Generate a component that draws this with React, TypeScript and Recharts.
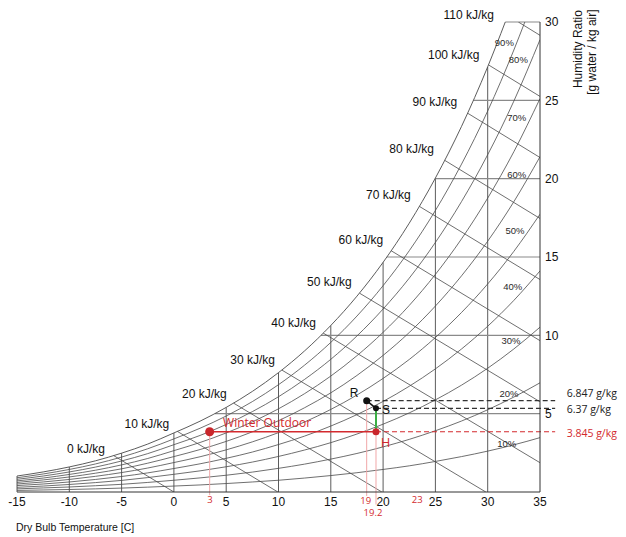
import React from 'react';
import { LineChart, Line, XAxis, YAxis, ReferenceLine, ReferenceDot } from 'recharts';

// dry bulb temperatures the curves are sampled at (C)
const TEMPS = [-15, -12.5, -10, -7.5, -5, -2.5, 0, 2.5, 5, 7.5, 10, 12.5, 15, 17.5, 20, 22.5, 25, 27.5, 30, 32.5, 35];

// humidity ratio (g/kg) along each relative humidity curve
const RH_LEVELS = [10, 20, 30, 40, 50, 60, 70, 80, 90];
const W_RH10 = [0.1, 0.13, 0.16, 0.2, 0.25, 0.31, 0.38, 0.45, 0.54, 0.64, 0.75, 0.89, 1.05, 1.23, 1.44, 1.67, 1.95, 2.26, 2.61, 3.01, 3.47];
const W_RH20 = [0.2, 0.26, 0.32, 0.4, 0.49, 0.61, 0.75, 0.9, 1.07, 1.27, 1.51, 1.78, 2.1, 2.46, 2.88, 3.36, 3.91, 4.53, 5.25, 6.06, 6.97];
const W_RH30 = [0.3, 0.38, 0.48, 0.6, 0.74, 0.92, 1.13, 1.35, 1.61, 1.91, 2.27, 2.68, 3.15, 3.7, 4.33, 5.05, 5.88, 6.82, 7.9, 9.13, 10.52];
const W_RH40 = [0.41, 0.51, 0.64, 0.8, 0.99, 1.22, 1.5, 1.8, 2.15, 2.55, 3.03, 3.57, 4.21, 4.94, 5.78, 6.75, 7.86, 9.13, 10.58, 12.23, 14.11];
const W_RH50 = [0.51, 0.64, 0.8, 1.0, 1.24, 1.53, 1.88, 2.25, 2.69, 3.2, 3.79, 4.47, 5.27, 6.19, 7.25, 8.46, 9.86, 11.46, 13.28, 15.36, 17.73];
const W_RH60 = [0.61, 0.77, 0.96, 1.2, 1.48, 1.84, 2.26, 2.71, 3.23, 3.84, 4.55, 5.38, 6.33, 7.44, 8.72, 10.18, 11.87, 13.8, 16.01, 18.53, 21.4];
const W_RH70 = [0.71, 0.89, 1.12, 1.39, 1.73, 2.14, 2.64, 3.16, 3.77, 4.48, 5.31, 6.28, 7.4, 8.7, 10.19, 11.91, 13.89, 16.16, 18.76, 21.72, 25.11];
const W_RH80 = [0.81, 1.02, 1.28, 1.59, 1.98, 2.45, 3.02, 3.61, 4.31, 5.13, 6.08, 7.19, 8.47, 9.96, 11.68, 13.65, 15.93, 18.54, 21.53, 24.95, 28.87];
const W_RH90 = [0.91, 1.15, 1.44, 1.79, 2.23, 2.76, 3.39, 4.07, 4.85, 5.77, 6.85, 8.1, 9.55, 11.23, 13.17, 15.4, 17.97, 20.93, 24.32, 28.21];
const RH90_END = [33.55, 30];
const W_SAT = [1.02, 1.28, 1.6, 1.99, 2.48, 3.06, 3.77, 4.52, 5.4, 6.42, 7.62, 9.01, 10.63, 12.5, 14.66, 17.16, 20.04, 23.34, 27.14];
const SAT_END = [31.68, 30];

// label spots for the RH curves
const RH_LABEL_T = [31.82, 32.04, 32.23, 32.39, 32.61, 32.77, 32.77, 32.93, 31.59];
const RH_LABEL_W = [3.06, 6.3, 9.64, 13.1, 16.66, 20.23, 23.89, 27.63, 28.67];

// constant enthalpy lines (kJ/kg), from the saturation curve to the frame
const H_VALUES = [0, 10, 20, 30, 40, 50, 60, 70, 80, 90, 100, 110];
const H_START_T = [-5.75, 0.33, 5.71, 10.33, 14.28, 17.75, 20.77, 23.47, 25.89, 28.08, 30.08, 32.93];
const H_START_W = [2.32, 3.87, 5.67, 7.78, 10.14, 12.69, 15.4, 18.23, 21.17, 24.18, 27.26, 30];
const H_END_T = [0, 9.94, 19.88, 29.82, 35, 35, 35, 35, 35, 35, 35, 35];
const H_END_W = [0, 0, 0, 0, 1.87, 5.76, 9.66, 13.56, 17.46, 21.35, 25.25, 29.15];
const H_LABEL_T = [-6.59, -0.44, 5.05, 9.67, 13.59, 17.0, 20.02, 22.64, 24.87, 27.09, 29.2, 30.6];
const H_LABEL_W = [2.79, 4.38, 6.25, 8.42, 10.8, 13.42, 16.13, 19.0, 21.89, 24.91, 27.89, 30.44];

// dry bulb grid lines and where they meet saturation
const GRID_T = [-15, -10, -5, 0, 5, 10, 15, 20, 25, 30];
const GRID_T_TOP = [1.02, 1.6, 2.48, 3.77, 5.4, 7.62, 10.63, 14.66, 20.04, 27.14];
// humidity ratio grid lines and their dew point start
const GRID_W = [5, 10, 15, 20, 25, 30];
const GRID_W_START = [3.92, 14.07, 20.36, 24.97, 28.63, 31.68];

const X_TICKS = [-15, -10, -5, 0, 5, 10, 15, 20, 25, 30, 35];
const Y_TICKS = [5, 10, 15, 20, 25, 30];

// process points
const WINTER = [3.42, 3.845];
const WINTER_LABEL = [4.7, 4.4];
const R_PT = [18.43, 5.83];
const S_PT = [19.32, 5.34];
const H_PT = [19.32, 3.845];
const LINE_END_T = 36.45;

const RATIO_LABELS = ['6.847 g/kg', '6.37 g/kg', '3.845 g/kg'];
const RATIO_LABEL_W = [6.27, 5.3, 3.78];
const RATIO_LABEL_T = 37.55;

const TEMP_NOTES = ['3', '19', '19.2', '23'];
const TEMP_NOTE_T = [3.45, 18.34, 19.03, 23.27];
const TEMP_NOTE_W = [-0.48, -0.56, -1.32, -0.51];

const RED = '#d32a2e';
const PINK = '#f1a7a8';
const GRID = '#4a4a4a';
const ARIAL = "'Liberation Sans', Arial, sans-serif";
const OPEN = "'Open Sans', sans-serif";

const series = (w: number[], end?: number[]) => {
  const pts = w.map((v, i) => ({ t: TEMPS[i], w: v }));
  if (end) pts.push({ t: end[0], w: end[1] });
  return pts;
};

const rhCurves = [W_RH10, W_RH20, W_RH30, W_RH40, W_RH50, W_RH60, W_RH70, W_RH80].map((w) => series(w));
rhCurves.push(series(W_RH90, RH90_END));
const satCurve = series(W_SAT, SAT_END);

const enthalpyLines = H_VALUES.map((h, i) => [
  { t: H_START_T[i], w: H_START_W[i] },
  { t: H_END_T[i], w: H_END_W[i] },
]);

const seg = (x1: number, y1: number, x2: number, y2: number) => [
  { x: x1, y: y1 },
  { x: x2, y: y2 },
];

export default function App() {
  return (
    <div style={{ position: 'absolute', left: 0, top: 0, fontFamily: ARIAL, background: '#fff' }}>
      <LineChart width={626} height={537} margin={{ top: 22, right: 56, bottom: 25, left: 17 }}>
        <XAxis
          type="number"
          dataKey="t"
          domain={[-15, 35]}
          ticks={X_TICKS}
          interval={0}
          allowDataOverflow
          tickLine={false}
          tickSize={3}
          tickMargin={2}
          height={20}
          stroke="#333"
          tick={{ fill: '#111', fontSize: 12, fontFamily: ARIAL }}
        />
        <YAxis
          type="number"
          orientation="right"
          domain={[0, 30]}
          ticks={Y_TICKS}
          interval={0}
          allowDataOverflow
          tickLine={false}
          tickSize={2}
          tickMargin={3}
          width={30}
          stroke="#333"
          tick={{ fill: '#111', fontSize: 12, fontFamily: ARIAL }}
        />

        {GRID_T.map((t, i) => (
          <ReferenceLine key={'gt' + t} segment={seg(t, 0, t, GRID_T_TOP[i])} stroke={GRID} strokeWidth={0.9} ifOverflow="visible" />
        ))}
        {GRID_W.map((w, i) => (
          <ReferenceLine key={'gw' + w} segment={seg(GRID_W_START[i], w, 35, w)} stroke="#8a8a8a" strokeWidth={1.1} ifOverflow="visible" />
        ))}

        {enthalpyLines.map((d, i) => (
          <Line key={'h' + H_VALUES[i]} data={d} dataKey="w" type="linear" stroke={GRID} strokeWidth={0.8} dot={false} isAnimationActive={false} />
        ))}
        {rhCurves.map((d, i) => (
          <Line key={'rh' + RH_LEVELS[i]} data={d} dataKey="w" type="monotone" stroke={GRID} strokeWidth={0.8} dot={false} isAnimationActive={false} />
        ))}
        <Line data={satCurve} dataKey="w" type="monotone" stroke={GRID} strokeWidth={0.9} dot={false} isAnimationActive={false} />

        {H_VALUES.map((h, i) => (
          <ReferenceDot
            key={'hl' + h}
            x={H_LABEL_T[i]}
            y={H_LABEL_W[i]}
            r={0}
            ifOverflow="visible"
            label={{ value: `${h} kJ/kg`, position: 'left', offset: 0, fill: '#111', fontSize: 12, fontFamily: ARIAL }}
          />
        ))}
        {RH_LEVELS.map((rh, i) => (
          <ReferenceDot
            key={'rl' + rh}
            x={RH_LABEL_T[i]}
            y={RH_LABEL_W[i]}
            r={0}
            ifOverflow="visible"
            label={{ value: `${rh}%`, position: 'center', fill: '#2a2a2a', fontSize: 9.5, fontFamily: ARIAL }}
          />
        ))}

        {/* process annotations */}
        <ReferenceLine segment={seg(WINTER[0], WINTER[1], WINTER[0], -0.2)} stroke={PINK} ifOverflow="visible" />
        <ReferenceLine segment={seg(R_PT[0], R_PT[1], R_PT[0], -0.25)} stroke={PINK} ifOverflow="visible" />
        <ReferenceLine segment={seg(H_PT[0], H_PT[1], H_PT[0], -0.8)} stroke={PINK} ifOverflow="visible" />
        <ReferenceLine segment={seg(R_PT[0], R_PT[1], LINE_END_T, R_PT[1])} stroke="#333" strokeWidth={1.3} strokeDasharray="5 3" ifOverflow="visible" />
        <ReferenceLine segment={seg(S_PT[0], S_PT[1], LINE_END_T, S_PT[1])} stroke="#333" strokeWidth={1.3} strokeDasharray="5 3" ifOverflow="visible" />
        <ReferenceLine segment={seg(H_PT[0], H_PT[1], LINE_END_T, H_PT[1])} stroke={RED} strokeWidth={1.2} strokeDasharray="5 3" ifOverflow="visible" />
        <ReferenceLine segment={seg(WINTER[0], WINTER[1], H_PT[0], H_PT[1])} stroke={RED} strokeWidth={1.5} ifOverflow="visible" />
        <ReferenceLine segment={seg(R_PT[0], R_PT[1], S_PT[0], S_PT[1])} stroke="#111" strokeWidth={1.5} ifOverflow="visible" />
        <ReferenceLine segment={seg(S_PT[0], S_PT[1], H_PT[0], H_PT[1])} stroke="#3cae45" strokeWidth={2} ifOverflow="visible" />

        <ReferenceDot x={WINTER[0]} y={WINTER[1]} r={4.5} fill="#c9262b" stroke="none" ifOverflow="visible" />
        <ReferenceDot x={WINTER_LABEL[0]} y={WINTER_LABEL[1]} r={0} ifOverflow="visible"
          label={{ value: 'Winter Outdoor', position: 'right', offset: 0, fill: RED, fontSize: 12, fontFamily: OPEN }} />
        <ReferenceDot x={R_PT[0]} y={R_PT[1]} r={3.5} fill="#111" stroke="none" ifOverflow="visible" />
        <ReferenceDot x={S_PT[0]} y={S_PT[1]} r={3} fill="#111" stroke="none" ifOverflow="visible" />
        <ReferenceDot x={H_PT[0]} y={H_PT[1]} r={3.5} fill="#c9262b" stroke="none" ifOverflow="visible" />
        <ReferenceDot x={17.22} y={6.36} r={0} ifOverflow="visible"
          label={{ value: 'R', position: 'center', fill: '#111', fontSize: 12, fontFamily: ARIAL }} />
        <ReferenceDot x={20.28} y={5.28} r={0} ifOverflow="visible"
          label={{ value: 'S', position: 'center', fill: '#111', fontSize: 12, fontFamily: ARIAL }} />
        <ReferenceDot x={20.24} y={3.19} r={0} ifOverflow="visible"
          label={{ value: 'H', position: 'center', fill: RED, fontSize: 13, fontFamily: OPEN }} />

        {RATIO_LABELS.map((txt, i) => (
          <ReferenceDot
            key={txt}
            x={RATIO_LABEL_T}
            y={RATIO_LABEL_W[i]}
            r={0}
            ifOverflow="visible"
            label={{ value: txt, position: 'right', offset: 0, fill: i === 2 ? RED : '#222', fontSize: 10.5, fontFamily: OPEN }}
          />
        ))}
        {TEMP_NOTES.map((txt, i) => (
          <ReferenceDot
            key={'tn' + txt}
            x={TEMP_NOTE_T[i]}
            y={TEMP_NOTE_W[i]}
            r={0}
            ifOverflow="visible"
            label={{ value: txt, position: 'center', fill: RED, fontSize: 9.5, fontFamily: OPEN }}
          />
        ))}

        {/* axis titles */}
        <ReferenceDot x={-15.1} y={-2.23} r={0} ifOverflow="visible"
          label={{ value: 'Dry Bulb Temperature [C]', position: 'right', offset: 0, fill: '#111', fontSize: 10.5, fontFamily: ARIAL }} />
        <ReferenceDot x={38.63} y={28.27} r={0} ifOverflow="visible"
          label={{ value: 'Humidity Ratio', position: 'center', angle: -90, fill: '#111', fontSize: 12, fontFamily: ARIAL }} />
        <ReferenceDot x={39.97} y={28.08} r={0} ifOverflow="visible"
          label={{ value: '[g water / kg air]', position: 'center', angle: -90, fill: '#111', fontSize: 12, fontFamily: ARIAL }} />
      </LineChart>
    </div>
  );
}
